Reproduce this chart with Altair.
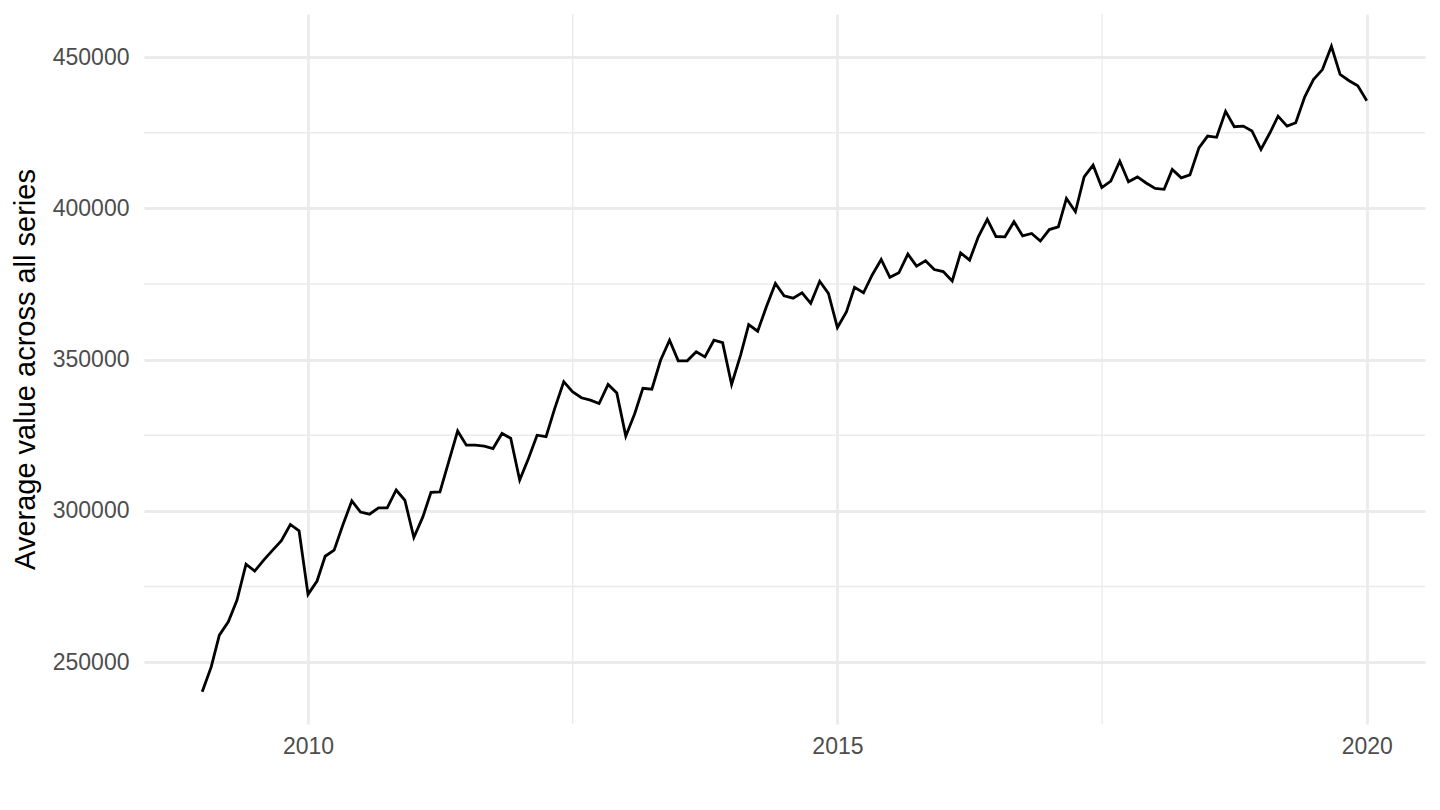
import altair as alt
import pandas as pd

# ---- data (monthly, Jan 2009 .. Jan 2020) ----
start_month = "2009-01-01"
avg_values = [
    240200, 248400, 258900, 263300, 270500, 282400, 280100, 283700, 287000, 290100, 295500, 293400,
    272400, 276800, 285000, 287000, 295300, 303300, 299600, 298900, 301000, 301000, 306900, 303500,
    291200, 298000, 306100, 306300, 316200, 326400, 321700, 321700, 321400, 320600, 325600, 324000,
    310200, 317500, 325000, 324500, 333900, 342700, 339400, 337400, 336600, 335500, 341800, 339000,
    324700, 332200, 340500, 340200, 349800, 356400, 349600, 349600, 352600, 350900, 356400, 355600,
    341800, 351500, 361600, 359400, 367500, 375200, 371100, 370300, 372100, 368600, 375900, 371900,
    360600, 365800, 373900, 372100, 378000, 383100, 377200, 378700, 384900, 380900, 382700, 379800,
    379100, 376000, 385300, 382900, 390600, 396400, 390700, 390600, 395600, 390900, 391700, 389200,
    393000, 393900, 403300, 398900, 410400, 414300, 406900, 409000, 415600, 408800, 410400, 408400,
    406600, 406300, 412900, 410100, 411100, 420000, 423900, 423500, 432100, 427000, 427200, 425600,
    419500, 425000, 430500, 427200, 428300, 436900, 442600, 445900, 453600, 444300, 442200, 440500,
    435600,
]
y_major = [250000, 300000, 350000, 400000, 450000]
y_minor = [275000, 325000, 375000, 425000]
x_major_years = [2010, 2015, 2020]
x_minor_dates = ["2012-07-02T00:00:00Z", "2017-07-02T00:00:00Z"]
y_title = "Average value across all series"

dates = pd.date_range(start=start_month, periods=len(avg_values), freq="MS")
df = pd.DataFrame({"date": [d.strftime("%Y-%m-%dT00:00:00Z") for d in dates],
                   "value": avg_values})
df_minor_x = pd.DataFrame({"date": x_minor_dates})
df_minor_y = pd.DataFrame({"value": y_minor})

GRID = "#EBEBEB"
FONT = "Liberation Sans"

xscale = alt.Scale(
    type="utc",
    domain=[alt.DateTime(year=2008, month=6, date=14, hours=3, utc=True),
            alt.DateTime(year=2020, month=7, date=19, hours=20, utc=True)],
)
yscale = alt.Scale(domain=[229530, 464270], nice=False, zero=False)

x_axis = alt.Axis(
    values=[alt.DateTime(year=y, month=1, date=1, utc=True) for y in x_major_years],
    format="%Y",
    grid=True, gridColor=GRID, gridWidth=2.8,
    ticks=False, tickSize=0, domain=False,
    labelFont=FONT, labelFontSize=23, labelColor="#4D4D4D", labelPadding=11,
    title=None,
)
y_axis = alt.Axis(
    values=y_major, format="d",
    grid=True, gridColor=GRID, gridWidth=2.8,
    ticks=False, tickSize=0, domain=False,
    labelFont=FONT, labelFontSize=23, labelColor="#4D4D4D", labelPadding=15,
    title=y_title, titleFont=FONT, titleFontSize=29, titleFontWeight="normal",
    titleColor="black", titlePadding=12,
)

minor_y = alt.Chart(df_minor_y).mark_rule(color=GRID, strokeWidth=1.4).encode(
    y=alt.Y("value:Q", scale=yscale, axis=y_axis, title=y_title)
)
minor_x = alt.Chart(df_minor_x).mark_rule(color=GRID, strokeWidth=1.4).encode(
    x=alt.X("date:T", scale=xscale, axis=x_axis, title=None)
)

line = alt.Chart(df).mark_line(color="black", strokeWidth=2.8).encode(
    x=alt.X("date:T", scale=xscale, axis=x_axis, title=None),
    y=alt.Y("value:Q", scale=yscale, axis=y_axis, title=y_title),
)

chart = alt.layer(minor_y, minor_x, line).properties(
    width=1281,
    height=710,
    autosize=alt.AutoSizeParams(type="none"),
    padding={"left": 136, "top": 6, "right": 7, "bottom": 78},
    background="white",
).configure_view(stroke=None)

chart.save("out.html", embed_options={"renderer": "svg", "actions": False})
